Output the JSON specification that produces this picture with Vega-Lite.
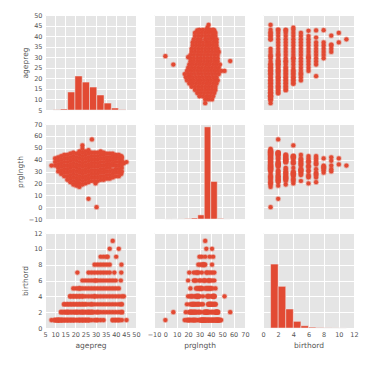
{
"$schema": "https://vega.github.io/schema/vega-lite/v6.json",
"padding": {"left": 16, "top": 12, "right": 5, "bottom": 5},
"background": "#FFFFFF",
"datasets": {
"nsfg": [
{"agepreg":8.2,"prglngth":35,"birthord":1},{"agepreg":30.5,"prglngth":0,"birthord":1},{"agepreg":26.5,"prglngth":7,"birthord":2},{"agepreg":28.2,"prglngth":57,"birthord":2},
{"agepreg":23.5,"prglngth":52,"birthord":4},{"agepreg":21,"prglngth":21,"birthord":7},{"agepreg":30,"prglngth":20,"birthord":6},{"agepreg":45.3,"prglngth":38,"birthord":1},
{"agepreg":42.7,"prglngth":28,"birthord":3},{"agepreg":42.5,"prglngth":38,"birthord":6},{"agepreg":42.7,"prglngth":43,"birthord":7},{"agepreg":42.8,"prglngth":41,"birthord":8},
{"agepreg":39.3,"prglngth":41,"birthord":7},{"agepreg":40.2,"prglngth":42,"birthord":9},{"agepreg":36,"prglngth":39,"birthord":9},{"agepreg":44,"prglngth":37,"birthord":4},
{"agepreg":10,"prglngth":35,"birthord":1},{"agepreg":10,"prglngth":38,"birthord":1},{"agepreg":10,"prglngth":41,"birthord":1},
{"agepreg":11.5,"prglngth":30,"birthord":1},{"agepreg":11.5,"prglngth":33,"birthord":1},{"agepreg":11.5,"prglngth":36,"birthord":1},{"agepreg":11.5,"prglngth":39,"birthord":1},{"agepreg":11.5,"prglngth":42,"birthord":1},
{"agepreg":13,"prglngth":28,"birthord":1},{"agepreg":13,"prglngth":31,"birthord":2},{"agepreg":13,"prglngth":34,"birthord":1},{"agepreg":13,"prglngth":37,"birthord":2},{"agepreg":13,"prglngth":40,"birthord":1},{"agepreg":13,"prglngth":43,"birthord":1},
{"agepreg":14.5,"prglngth":26,"birthord":1},{"agepreg":14.5,"prglngth":29,"birthord":2},{"agepreg":14.5,"prglngth":32,"birthord":3},{"agepreg":14.5,"prglngth":35,"birthord":1},{"agepreg":14.5,"prglngth":38,"birthord":2},{"agepreg":14.5,"prglngth":41,"birthord":3},{"agepreg":14.5,"prglngth":44,"birthord":1},
{"agepreg":16,"prglngth":23,"birthord":1},{"agepreg":16,"prglngth":26,"birthord":2},{"agepreg":16,"prglngth":29,"birthord":3},{"agepreg":16,"prglngth":32,"birthord":1},{"agepreg":16,"prglngth":35,"birthord":2},{"agepreg":16,"prglngth":38,"birthord":3},{"agepreg":16,"prglngth":41,"birthord":1},{"agepreg":16,"prglngth":44,"birthord":2},
{"agepreg":17.5,"prglngth":21,"birthord":1},{"agepreg":17.5,"prglngth":24,"birthord":2},{"agepreg":17.5,"prglngth":27,"birthord":3},{"agepreg":17.5,"prglngth":30,"birthord":4},{"agepreg":17.5,"prglngth":33,"birthord":1},{"agepreg":17.5,"prglngth":36,"birthord":2},{"agepreg":17.5,"prglngth":39,"birthord":3},{"agepreg":17.5,"prglngth":42,"birthord":4},{"agepreg":17.5,"prglngth":45,"birthord":1},
{"agepreg":19,"prglngth":19,"birthord":3},{"agepreg":19,"prglngth":22,"birthord":2},{"agepreg":19,"prglngth":25,"birthord":1},{"agepreg":19,"prglngth":28,"birthord":4},{"agepreg":19,"prglngth":31,"birthord":5},{"agepreg":19,"prglngth":34,"birthord":1},{"agepreg":19,"prglngth":37,"birthord":2},{"agepreg":19,"prglngth":40,"birthord":3},{"agepreg":19,"prglngth":43,"birthord":4},{"agepreg":19,"prglngth":46,"birthord":1},
{"agepreg":20.5,"prglngth":18,"birthord":2},{"agepreg":20.5,"prglngth":21,"birthord":1},{"agepreg":20.5,"prglngth":24,"birthord":3},{"agepreg":20.5,"prglngth":27,"birthord":4},{"agepreg":20.5,"prglngth":30,"birthord":5},{"agepreg":20.5,"prglngth":33,"birthord":1},{"agepreg":20.5,"prglngth":36,"birthord":2},{"agepreg":20.5,"prglngth":39,"birthord":3},{"agepreg":20.5,"prglngth":42,"birthord":4},{"agepreg":20.5,"prglngth":45,"birthord":2},
{"agepreg":22,"prglngth":17,"birthord":1},{"agepreg":22,"prglngth":20,"birthord":4},{"agepreg":22,"prglngth":23,"birthord":3},{"agepreg":22,"prglngth":26,"birthord":2},{"agepreg":22,"prglngth":29,"birthord":5},{"agepreg":22,"prglngth":32,"birthord":1},{"agepreg":22,"prglngth":35,"birthord":2},{"agepreg":22,"prglngth":38,"birthord":3},{"agepreg":22,"prglngth":41,"birthord":4},{"agepreg":22,"prglngth":44,"birthord":5},{"agepreg":22,"prglngth":47,"birthord":1},
{"agepreg":23.5,"prglngth":19,"birthord":1},{"agepreg":23.5,"prglngth":22,"birthord":2},{"agepreg":23.5,"prglngth":25,"birthord":3},{"agepreg":23.5,"prglngth":28,"birthord":4},{"agepreg":23.5,"prglngth":31,"birthord":5},{"agepreg":23.5,"prglngth":34,"birthord":6},{"agepreg":23.5,"prglngth":37,"birthord":1},{"agepreg":23.5,"prglngth":40,"birthord":2},{"agepreg":23.5,"prglngth":43,"birthord":3},{"agepreg":23.5,"prglngth":46,"birthord":2},{"agepreg":23.5,"prglngth":49,"birthord":1},
{"agepreg":25,"prglngth":20,"birthord":1},{"agepreg":25,"prglngth":23,"birthord":2},{"agepreg":25,"prglngth":26,"birthord":3},{"agepreg":25,"prglngth":29,"birthord":4},{"agepreg":25,"prglngth":32,"birthord":5},{"agepreg":25,"prglngth":35,"birthord":6},{"agepreg":25,"prglngth":38,"birthord":1},{"agepreg":25,"prglngth":41,"birthord":2},{"agepreg":25,"prglngth":44,"birthord":3},{"agepreg":25,"prglngth":47,"birthord":1},
{"agepreg":26.5,"prglngth":21,"birthord":2},{"agepreg":26.5,"prglngth":24,"birthord":1},{"agepreg":26.5,"prglngth":27,"birthord":6},{"agepreg":26.5,"prglngth":30,"birthord":3},{"agepreg":26.5,"prglngth":33,"birthord":4},{"agepreg":26.5,"prglngth":36,"birthord":7},{"agepreg":26.5,"prglngth":39,"birthord":5},{"agepreg":26.5,"prglngth":42,"birthord":1},{"agepreg":26.5,"prglngth":45,"birthord":2},{"agepreg":26.5,"prglngth":48,"birthord":1},
{"agepreg":28,"prglngth":22,"birthord":3},{"agepreg":28,"prglngth":25,"birthord":6},{"agepreg":28,"prglngth":28,"birthord":7},{"agepreg":28,"prglngth":31,"birthord":1},{"agepreg":28,"prglngth":34,"birthord":2},{"agepreg":28,"prglngth":37,"birthord":4},{"agepreg":28,"prglngth":40,"birthord":5},{"agepreg":28,"prglngth":43,"birthord":3},{"agepreg":28,"prglngth":46,"birthord":2},
{"agepreg":29.5,"prglngth":22,"birthord":4},{"agepreg":29.5,"prglngth":25,"birthord":7},{"agepreg":29.5,"prglngth":28,"birthord":5},{"agepreg":29.5,"prglngth":31,"birthord":6},{"agepreg":29.5,"prglngth":34,"birthord":8},{"agepreg":29.5,"prglngth":37,"birthord":2},{"agepreg":29.5,"prglngth":40,"birthord":3},{"agepreg":29.5,"prglngth":43,"birthord":4},{"agepreg":29.5,"prglngth":46,"birthord":1},
{"agepreg":31,"prglngth":22,"birthord":5},{"agepreg":31,"prglngth":25,"birthord":3},{"agepreg":31,"prglngth":28,"birthord":2},{"agepreg":31,"prglngth":31,"birthord":8},{"agepreg":31,"prglngth":34,"birthord":6},{"agepreg":31,"prglngth":37,"birthord":7},{"agepreg":31,"prglngth":40,"birthord":1},{"agepreg":31,"prglngth":43,"birthord":4},{"agepreg":31,"prglngth":46,"birthord":2},
{"agepreg":32.5,"prglngth":23,"birthord":4},{"agepreg":32.5,"prglngth":26,"birthord":6},{"agepreg":32.5,"prglngth":29,"birthord":7},{"agepreg":32.5,"prglngth":32,"birthord":9},{"agepreg":32.5,"prglngth":35,"birthord":8},{"agepreg":32.5,"prglngth":38,"birthord":5},{"agepreg":32.5,"prglngth":41,"birthord":3},{"agepreg":32.5,"prglngth":44,"birthord":2},{"agepreg":32.5,"prglngth":47,"birthord":1},
{"agepreg":34,"prglngth":23,"birthord":2},{"agepreg":34,"prglngth":26,"birthord":4},{"agepreg":34,"prglngth":29,"birthord":8},{"agepreg":34,"prglngth":32,"birthord":7},{"agepreg":34,"prglngth":35,"birthord":9},{"agepreg":34,"prglngth":38,"birthord":6},{"agepreg":34,"prglngth":41,"birthord":5},{"agepreg":34,"prglngth":44,"birthord":3},{"agepreg":34,"prglngth":46,"birthord":1},
{"agepreg":35.5,"prglngth":24,"birthord":3},{"agepreg":35.5,"prglngth":27,"birthord":7},{"agepreg":35.5,"prglngth":30,"birthord":9},{"agepreg":35.5,"prglngth":33,"birthord":8},{"agepreg":35.5,"prglngth":36,"birthord":5},{"agepreg":35.5,"prglngth":39,"birthord":6},{"agepreg":35.5,"prglngth":42,"birthord":4},{"agepreg":35.5,"prglngth":45,"birthord":2},
{"agepreg":37,"prglngth":24,"birthord":4},{"agepreg":37,"prglngth":27,"birthord":5},{"agepreg":37,"prglngth":30,"birthord":6},{"agepreg":37,"prglngth":33,"birthord":8},{"agepreg":37,"prglngth":36,"birthord":10},{"agepreg":37,"prglngth":39,"birthord":7},{"agepreg":37,"prglngth":42,"birthord":3},{"agepreg":37,"prglngth":45,"birthord":2},
{"agepreg":38.5,"prglngth":25,"birthord":2},{"agepreg":38.5,"prglngth":28,"birthord":4},{"agepreg":38.5,"prglngth":31,"birthord":1},{"agepreg":38.5,"prglngth":35,"birthord":11},{"agepreg":38.5,"prglngth":37,"birthord":5},{"agepreg":38.5,"prglngth":40,"birthord":3},{"agepreg":38.5,"prglngth":43,"birthord":6},{"agepreg":38.5,"prglngth":45,"birthord":1},
{"agepreg":40,"prglngth":26,"birthord":1},{"agepreg":40,"prglngth":29,"birthord":3},{"agepreg":40,"prglngth":32,"birthord":5},{"agepreg":40,"prglngth":35,"birthord":2},{"agepreg":40,"prglngth":38,"birthord":4},{"agepreg":40,"prglngth":41,"birthord":6},{"agepreg":40,"prglngth":44,"birthord":1},
{"agepreg":41.5,"prglngth":26,"birthord":2},{"agepreg":41.5,"prglngth":29,"birthord":4},{"agepreg":41.5,"prglngth":32,"birthord":1},{"agepreg":41.5,"prglngth":35,"birthord":5},{"agepreg":41.5,"prglngth":38,"birthord":3},{"agepreg":41.5,"prglngth":41,"birthord":10},{"agepreg":41.5,"prglngth":44,"birthord":1},
{"agepreg":43,"prglngth":30,"birthord":2},{"agepreg":43,"prglngth":33,"birthord":3},{"agepreg":43,"prglngth":36,"birthord":1},{"agepreg":43,"prglngth":39,"birthord":4},{"agepreg":43,"prglngth":42,"birthord":2}
],
"h_agepreg": [
{"lo":9,"hi":12.6,"count":20},{"lo":12.6,"hi":16.2,"count":70},{"lo":16.2,"hi":19.8,"count":1270},{"lo":19.8,"hi":23.4,"count":2400},{"lo":23.4,"hi":27,"count":1970},
{"lo":27,"hi":30.6,"count":1620},{"lo":30.6,"hi":34.2,"count":1060},{"lo":34.2,"hi":37.8,"count":490},{"lo":37.8,"hi":41.4,"count":140},{"lo":41.4,"hi":45,"count":25}
],
"h_prglngth": [
{"lo":0,"hi":5.7,"count":3},{"lo":5.7,"hi":11.4,"count":2},{"lo":11.4,"hi":17.1,"count":5},{"lo":17.1,"hi":22.8,"count":30},{"lo":22.8,"hi":28.5,"count":70},
{"lo":28.5,"hi":34.2,"count":290},{"lo":34.2,"hi":39.9,"count":6500},{"lo":39.9,"hi":45.6,"count":2650},{"lo":45.6,"hi":51.3,"count":40},{"lo":51.3,"hi":57,"count":3}
],
"h_birthord": [
{"lo":1,"hi":2,"count":4510},{"lo":2,"hi":3,"count":2940},{"lo":3,"hi":4,"count":1340},{"lo":4,"hi":5,"count":470},{"lo":5,"hi":6,"count":160},
{"lo":6,"hi":7,"count":60},{"lo":7,"hi":8,"count":25},{"lo":8,"hi":9,"count":10},{"lo":9,"hi":10,"count":5},{"lo":10,"hi":11,"count":3}
]
},
"columns": 3,
"spacing": {"row": 14, "column": 18},
"bounds": "flush",
"concat": [
{
"width": 91, "height": 95,
"layer": [
{"data": {"name": "nsfg"}, "mark": {"type": "circle", "opacity": 0},
 "encoding": {
  "x": {"field": "agepreg", "type": "quantitative", "scale": {"domain": [5, 50], "nice": false, "zero": false}, "axis": {"values": [5,10,15,20,25,30,35,40,45,50], "labels": false, "title": null}},
  "y": {"field": "agepreg", "type": "quantitative", "scale": {"domain": [5, 50], "nice": false, "zero": false}, "axis": {"values": [5,10,15,20,25,30,35,40,45,50], "title": "agepreg"}}
 }},
{"data": {"name": "h_agepreg"}, "mark": {"type": "bar", "color": "#E24A33", "stroke": "#EEEEEE", "strokeWidth": 0.5},
 "encoding": {
  "x": {"field": "lo", "type": "quantitative", "axis": {"values": [5,10,15,20,25,30,35,40,45,50], "labels": false, "title": null}},
  "x2": {"field": "hi"},
  "y": {"field": "count", "type": "quantitative", "scale": {"domain": [0, 6700]}, "axis": null},
  "y2": {"datum": 0}
 }}
],
"resolve": {"scale": {"y": "independent"}}
},
{
"width": 91, "height": 95,
"data": {"name": "nsfg"},
"mark": {"type": "circle", "size": 18, "color": "#E24A33", "opacity": 1, "stroke": "#E24A33", "strokeWidth": 1.5, "strokeOpacity": 0.35},
"encoding": {
 "x": {"field": "prglngth", "type": "quantitative", "scale": {"domain": [-10, 70], "nice": false, "zero": false}, "axis": {"values": [-10,0,10,20,30,40,50,60,70], "labels": false, "title": null}},
 "y": {"field": "agepreg", "type": "quantitative", "scale": {"domain": [5, 50], "nice": false, "zero": false}, "axis": {"values": [5,10,15,20,25,30,35,40,45,50], "labels": false, "title": null}}
}
},
{
"width": 91, "height": 95,
"data": {"name": "nsfg"},
"mark": {"type": "circle", "size": 18, "color": "#E24A33", "opacity": 1, "stroke": "#E24A33", "strokeWidth": 1.5, "strokeOpacity": 0.35},
"encoding": {
 "x": {"field": "birthord", "type": "quantitative", "scale": {"domain": [0, 12], "nice": false, "zero": false}, "axis": {"values": [0,2,4,6,8,10,12], "labels": false, "title": null}},
 "y": {"field": "agepreg", "type": "quantitative", "scale": {"domain": [5, 50], "nice": false, "zero": false}, "axis": {"values": [5,10,15,20,25,30,35,40,45,50], "labels": false, "title": null}}
}
},
{
"width": 91, "height": 95,
"data": {"name": "nsfg"},
"mark": {"type": "circle", "size": 18, "color": "#E24A33", "opacity": 1, "stroke": "#E24A33", "strokeWidth": 1.5, "strokeOpacity": 0.35},
"encoding": {
 "x": {"field": "agepreg", "type": "quantitative", "scale": {"domain": [5, 50], "nice": false, "zero": false}, "axis": {"values": [5,10,15,20,25,30,35,40,45,50], "labels": false, "title": null}},
 "y": {"field": "prglngth", "type": "quantitative", "scale": {"domain": [-10, 70], "nice": false, "zero": false}, "axis": {"values": [-10,0,10,20,30,40,50,60,70], "title": "prglngth", "labelExpr": "replace(datum.label, '-', '−')"}}
}
},
{
"width": 91, "height": 95,
"layer": [
{"data": {"name": "nsfg"}, "mark": {"type": "circle", "opacity": 0},
 "encoding": {
  "x": {"field": "prglngth", "type": "quantitative", "scale": {"domain": [-10, 70], "nice": false, "zero": false}, "axis": {"values": [-10,0,10,20,30,40,50,60,70], "labels": false, "title": null}},
  "y": {"field": "prglngth", "type": "quantitative", "scale": {"domain": [-10, 70], "nice": false, "zero": false}, "axis": {"values": [-10,0,10,20,30,40,50,60,70], "labels": false, "title": null}}
 }},
{"data": {"name": "h_prglngth"}, "mark": {"type": "bar", "color": "#E24A33", "stroke": "#EEEEEE", "strokeWidth": 0.5},
 "encoding": {
  "x": {"field": "lo", "type": "quantitative", "axis": {"values": [-10,0,10,20,30,40,50,60,70], "labels": false, "title": null}},
  "x2": {"field": "hi"},
  "y": {"field": "count", "type": "quantitative", "scale": {"domain": [0, 6700]}, "axis": null},
  "y2": {"datum": 0}
 }}
],
"resolve": {"scale": {"y": "independent"}}
},
{
"width": 91, "height": 95,
"data": {"name": "nsfg"},
"mark": {"type": "circle", "size": 18, "color": "#E24A33", "opacity": 1, "stroke": "#E24A33", "strokeWidth": 1.5, "strokeOpacity": 0.35},
"encoding": {
 "x": {"field": "birthord", "type": "quantitative", "scale": {"domain": [0, 12], "nice": false, "zero": false}, "axis": {"values": [0,2,4,6,8,10,12], "labels": false, "title": null}},
 "y": {"field": "prglngth", "type": "quantitative", "scale": {"domain": [-10, 70], "nice": false, "zero": false}, "axis": {"values": [-10,0,10,20,30,40,50,60,70], "labels": false, "title": null}}
}
},
{
"width": 91, "height": 95,
"data": {"name": "nsfg"},
"mark": {"type": "circle", "size": 18, "color": "#E24A33", "opacity": 1, "stroke": "#E24A33", "strokeWidth": 1.5, "strokeOpacity": 0.35},
"encoding": {
 "x": {"field": "agepreg", "type": "quantitative", "scale": {"domain": [5, 50], "nice": false, "zero": false}, "axis": {"values": [5,10,15,20,25,30,35,40,45,50], "title": "agepreg"}},
 "y": {"field": "birthord", "type": "quantitative", "scale": {"domain": [0, 12], "nice": false, "zero": false}, "axis": {"values": [0,2,4,6,8,10,12], "title": "birthord"}}
}
},
{
"width": 91, "height": 95,
"data": {"name": "nsfg"},
"mark": {"type": "circle", "size": 18, "color": "#E24A33", "opacity": 1, "stroke": "#E24A33", "strokeWidth": 1.5, "strokeOpacity": 0.35},
"encoding": {
 "x": {"field": "prglngth", "type": "quantitative", "scale": {"domain": [-10, 70], "nice": false, "zero": false}, "axis": {"values": [-10,0,10,20,30,40,50,60,70], "title": "prglngth", "labelExpr": "replace(datum.label, '-', '−')"}},
 "y": {"field": "birthord", "type": "quantitative", "scale": {"domain": [0, 12], "nice": false, "zero": false}, "axis": {"values": [0,2,4,6,8,10,12], "labels": false, "title": null}}
}
},
{
"width": 91, "height": 95,
"layer": [
{"data": {"name": "nsfg"}, "mark": {"type": "circle", "opacity": 0},
 "encoding": {
  "x": {"field": "birthord", "type": "quantitative", "scale": {"domain": [0, 12], "nice": false, "zero": false}, "axis": {"values": [0,2,4,6,8,10,12], "title": "birthord"}},
  "y": {"field": "birthord", "type": "quantitative", "scale": {"domain": [0, 12], "nice": false, "zero": false}, "axis": {"values": [0,2,4,6,8,10,12], "labels": false, "title": null}}
 }},
{"data": {"name": "h_birthord"}, "mark": {"type": "bar", "color": "#E24A33", "stroke": "#EEEEEE", "strokeWidth": 0.5},
 "encoding": {
  "x": {"field": "lo", "type": "quantitative", "axis": {"values": [0,2,4,6,8,10,12], "title": "birthord"}},
  "x2": {"field": "hi"},
  "y": {"field": "count", "type": "quantitative", "scale": {"domain": [0, 6700]}, "axis": null},
  "y2": {"datum": 0}
 }}
],
"resolve": {"scale": {"y": "independent"}}
}
],
"config": {
 "view": {"fill": "#E5E5E5", "stroke": null},
 "axis": {"domain": false, "ticks": false, "grid": true, "gridColor": "#FFFFFF", "gridWidth": 1, "gridOpacity": 1,
  "labelFont": "DejaVu Sans", "labelFontSize": 6.5, "labelColor": "#555555", "labelPadding": 3, "labelFlush": false, "labelOverlap": false,
  "titleFont": "DejaVu Sans", "titleFontSize": 7.5, "titleFontWeight": "normal", "titleColor": "#555555", "titlePadding": 4}
}
}
